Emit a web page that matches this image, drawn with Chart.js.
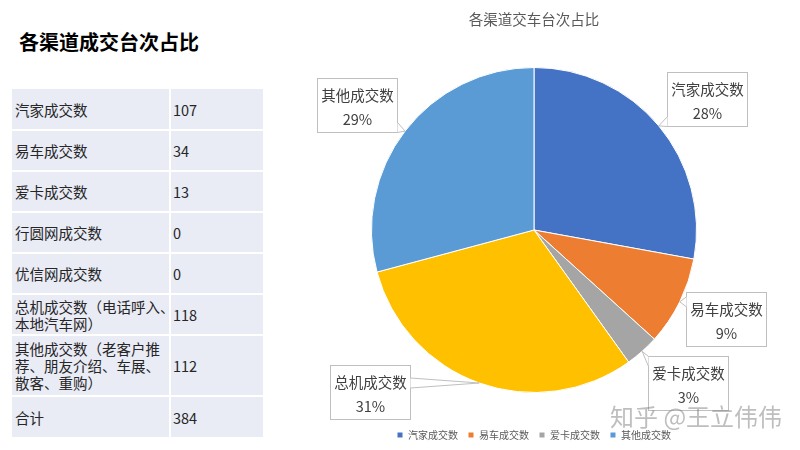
<!DOCTYPE html>
<html>
<head>
<meta charset="utf-8">
<script src="https://cdn.jsdelivr.net/npm/chart.js@4/dist/chart.umd.min.js"></script>
<style>
  body { margin: 0; width: 800px; height: 450px; background: #fff; position: relative; overflow: hidden;
         font-family: "Noto Sans CJK SC", "Noto Sans", sans-serif; }
  h1 { position: absolute; left: 19px; top: 29px; margin: 0; font-size: 20px; line-height: 26px; font-weight: bold; color: #000; }
  #tbl { position: absolute; left: 12px; top: 89px; display: grid; grid-template-columns: 157px 92px;
         grid-template-rows: 40px 39px 39px 39px 39px 39px 59px 40px; gap: 2px; }
  #tbl div { background: #E9EBF5; color: #262626; font-size: 14.5px; line-height: 17px; display: flex;
             align-items: center; white-space: nowrap; }
  #tbl .lab { padding-left: 3px; }
  #tbl .val { padding-left: 2px; }
  #chartBox { position: absolute; left: 280px; top: 0; width: 520px; height: 450px; }
  #mark { position: absolute; left: 610px; top: 401px; font-size: 24px; line-height: 30px; color: rgba(110,110,110,0.45);
          white-space: nowrap; pointer-events: none; }
</style>
</head>
<body>
<h1>各渠道成交台次占比</h1>
<div id="tbl"></div>
<div id="chartBox"><canvas id="pie" width="520" height="450"></canvas></div>
<div id="mark">知乎 @王立伟伟</div>
<script>
// 表格数据
const tableLabels = [
  ['汽家成交数'],
  ['易车成交数'],
  ['爱卡成交数'],
  ['行圆网成交数'],
  ['优信网成交数'],
  ['总机成交数（电话呼入、', '本地汽车网）'],
  ['其他成交数（老客户推', '荐、朋友介绍、车展、', '散客、重购）'],
  ['合计']
];
const tableValues = [107, 34, 13, 0, 0, 118, 112, 384];

// 饼图数据
const categories = ['汽家成交数', '易车成交数', '爱卡成交数', '总机成交数', '其他成交数'];
const counts = [107, 34, 13, 118, 112];
const sliceColors = ['#4472C4', '#ED7D31', '#A5A5A5', '#FFC000', '#5B9BD5'];

const FONT = '"Noto Sans CJK SC", "Noto Sans", sans-serif';

// 生成表格
const tbl = document.getElementById('tbl');
tableLabels.forEach((lines, i) => {
  const a = document.createElement('div');
  a.className = 'lab';
  a.innerHTML = lines.join('<br>');
  const b = document.createElement('div');
  b.className = 'val';
  b.textContent = tableValues[i];
  tbl.appendChild(a);
  tbl.appendChild(b);
});

// 数据标签（带引线的方框）
const callouts = {
  id: 'callouts',
  afterDraw(chart, args, opts) {
    const ctx = chart.ctx;
    const meta = chart.getDatasetMeta(0);
    const data = chart.data.datasets[0].data;
    const total = data.reduce((s, v) => s + v, 0);
    const w = opts.boxWidth, h = opts.boxHeight;
    ctx.save();
    meta.data.forEach((arc, i) => {
      const mid = (arc.startAngle + arc.endAngle) / 2;
      const r = arc.outerRadius;
      const ax = arc.x + Math.cos(mid) * r;
      const ay = arc.y + Math.sin(mid) * r;
      const nd = opts.nudge[i] || [0, 0];
      const cx = arc.x + Math.cos(mid) * r * opts.dist + nd[0];
      const cy = arc.y + Math.sin(mid) * r * opts.dist + nd[1];
      const bx = Math.round(cx - w / 2) + 0.5;
      const by = Math.round(cy - h / 2) + 0.5;

      ctx.lineWidth = 1;
      ctx.strokeStyle = '#BFBFBF';
      ctx.fillStyle = '#fff';
      ctx.fillRect(bx, by, w, h);
      ctx.strokeRect(bx, by, w, h);

      // 引线楔形
      const gx = ax < bx ? bx - ax : (ax > bx + w ? ax - bx - w : 0);
      const gy = ay < by ? by - ay : (ay > by + h ? ay - by - h : 0);
      let p1, p2;
      if (gx >= gy) {
        const sx = ax < bx ? bx : bx + w;
        const y0 = Math.max(by + 5, Math.min(ay, by + h - 5));
        p1 = [sx, y0 - 5]; p2 = [sx, y0 + 5];
      } else {
        const sy = ay < by ? by : by + h;
        const x0 = Math.max(bx + 5, Math.min(ax, bx + w - 5));
        p1 = [x0 - 5, sy]; p2 = [x0 + 5, sy];
      }
      ctx.beginPath();
      ctx.moveTo(ax, ay); ctx.lineTo(p1[0], p1[1]); ctx.lineTo(p2[0], p2[1]); ctx.closePath();
      ctx.fill();
      ctx.beginPath();
      ctx.moveTo(p1[0], p1[1]); ctx.lineTo(ax, ay); ctx.lineTo(p2[0], p2[1]);
      ctx.stroke();

      ctx.fillStyle = '#404040';
      ctx.font = '14.5px ' + FONT;
      ctx.textAlign = 'center';
      ctx.textBaseline = 'middle';
      ctx.fillText(chart.data.labels[i], bx + w / 2, by + 17);
      ctx.fillText(Math.round(data[i] / total * 100) + '%', bx + w / 2, by + 41);
    });
    ctx.restore();
  }
};

new Chart(document.getElementById('pie'), {
  type: 'pie',
  data: {
    labels: categories,
    datasets: [{
      data: counts,
      backgroundColor: sliceColors,
      borderColor: '#fff',
      borderWidth: 1
    }]
  },
  options: {
    responsive: false,
    animation: false,
    layout: { padding: { left: 91, right: 103, top: 0, bottom: 0 } },
    plugins: {
      title: {
        display: true,
        text: '各渠道交车台次占比',
        color: '#595959',
        font: { size: 14.5, family: FONT, weight: 'normal' },
        padding: { top: 11, bottom: 11.6 }
      },
      legend: {
        position: 'bottom',
        labels: {
          filter: item => item.index !== 3,
          boxWidth: 6,
          boxHeight: 6,
          color: '#595959',
          font: { size: 10, family: FONT },
          padding: 10
        }
      },
      tooltip: { enabled: false },
      callouts: {
        boxWidth: 80,
        boxHeight: 54,
        dist: 1.32,
        nudge: [[8, 6], [0, -6], [11, -7], [-92, -40], [-7, 6]]
      }
    }
  },
  plugins: [callouts]
});
</script>
</body>
</html>
